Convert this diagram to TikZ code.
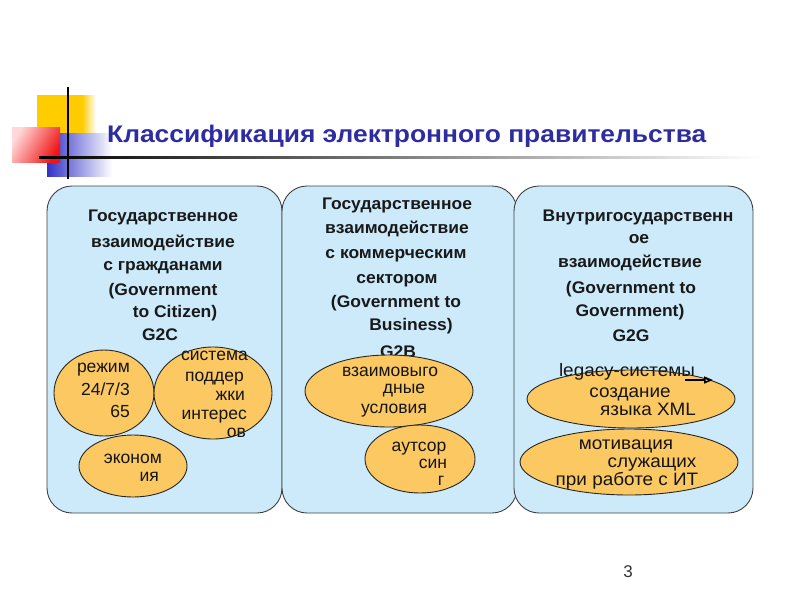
\documentclass[tikz,border=0pt]{standalone}
\usepackage{fontspec}
\setmainfont{Liberation Sans}
\newfontfamily\widefont[FakeStretch=1.1]{Liberation Sans}
\newfontfamily\midfont[FakeStretch=1.05]{Liberation Sans}
\newfontfamily\hdrfont[FakeStretch=1.04]{Liberation Sans}
\usetikzlibrary{arrows.meta}
\definecolor{boxblue}{RGB}{204,234,250}
\definecolor{ovfill}{RGB}{252,200,98}
\definecolor{titleblue}{RGB}{45,45,160}
\definecolor{logoyel}{RGB}{255,204,0}
\definecolor{logored}{RGB}{240,20,20}
\definecolor{logoblue}{RGB}{50,50,200}
\definecolor{txt}{RGB}{25,25,25}
\tikzset{
  panel/.style={draw=black!75, line width=0.9pt, fill=boxblue, rounded corners=25pt},
  oval/.style={draw=black!85, line width=0.9pt, fill=ovfill},
  hdr/.style={font=\hdrfont\bfseries\fontsize{16.8}{19}\selectfont, inner sep=0pt, text=txt, anchor=mid},
  etx/.style={font=\fontsize{17.5}{20}\selectfont, inner sep=0pt, text=txt!85!black},
  etw/.style={font=\midfont\fontsize{18}{20}\selectfont, inner sep=0pt, text=txt!85!black, anchor=mid},
}
\begin{document}
\begin{tikzpicture}[x=1pt,y=-1pt]
\useasboundingbox (0,0) rectangle (800,600);
% logo
\fill[logoyel] (37,95) rectangle (82,133);
\shade[left color=logoyel, right color=white] (82,95) rectangle (96,133);
\shade[left color=logoblue, right color=white] (47,133) rectangle (112,176);
\shade[left color=red!15, right color=logored, shading angle=60] (12,127) rectangle (60,162);
\draw[line width=1.6pt] (68,87) -- (68,179);
\shade[left color=black, right color=white] (39,156) rectangle (760,158.5);
% title
\node[font=\widefont\bfseries\fontsize{24}{28}\selectfont, text=titleblue, anchor=mid west, inner sep=0pt] (title) at (107,140) {Классификация электронного правительства};
% panels
\draw[panel] (47,186) rectangle (282,513);
\draw[panel] (282,186) rectangle (517,513);
\draw[panel] (514,186) rectangle (753,513);
% headers box 1
\node[hdr] (h1a) at (163,219) {Государственное};
\node[hdr] (h1b) at (163,245) {взаимодействие};
\node[hdr] (h1c) at (163,268) {с гражданами};
\node[hdr] (h1d) at (163,293) {(Government};
\node[hdr] (h1e) at (175,315) {to Citizen)};
\node[hdr] (h1f) at (160,338) {G2C};
% headers box 2
\node[hdr] (h2a) at (397,207) {Государственное};
\node[hdr] (h2b) at (397,231) {взаимодействие};
\node[hdr] (h2c) at (396,256) {с коммерческим};
\node[hdr] (h2d) at (397,281) {сектором};
\node[hdr] (h2e) at (396,305) {(Government to};
\node[hdr] (h2f) at (411,328) {Business)};
\node[hdr] (h2g) at (398,355) {G2B};
% headers box 3
\node[hdr] (h3a) at (638,219) {Внутригосударственн};
\node[hdr] (h3b) at (639,241) {ое};
\node[hdr] (h3c) at (630,265) {взаимодействие};
\node[hdr] (h3d) at (631,291) {(Government to};
\node[hdr] (h3e) at (630,314) {Government)};
\node[hdr] (h3f) at (631,339) {G2G};
% ovals
\draw[oval] (104,393) ellipse [x radius=50, y radius=43];
\draw[oval] (213,393) ellipse [x radius=59, y radius=46];
\draw[oval] (133,466) ellipse [x radius=54, y radius=31];
\draw[oval] (389,391) ellipse [x radius=84, y radius=36];
\draw[oval] (420,459) ellipse [x radius=55, y radius=34];
\draw[oval] (631,399) ellipse [x radius=104, y radius=29];
\draw[oval] (629,462) ellipse [x radius=109, y radius=33];
% oval texts box 1
\node[etx, anchor=mid east] (e1a) at (130,370) {режим};
\node[etx, anchor=mid east] (e1b) at (130,393) {24/7/3};
\node[etx, anchor=mid east] (e1c) at (130,415) {65};
\node[etx, anchor=mid east] (e2a) at (248,358) {система};
\node[etx, anchor=mid east] (e2b) at (244,379) {поддер};
\node[etx, anchor=mid east] (e2c) at (245,398) {жки};
\node[etx, anchor=mid east] (e2d) at (247,417) {интерес};
\node[etx, anchor=mid east] (e2e) at (246,435) {ов};
\node[etx, anchor=mid east] (e3a) at (162,461) {эконом};
\node[etx, anchor=mid east] (e3b) at (159,479) {ия};
% oval texts box 2
\node[etx, anchor=mid] (e4a) at (390,374) {взаимовыго};
\node[etx, anchor=mid] (e4b) at (404,391) {дные};
\node[etx, anchor=mid] (e4c) at (394,411) {условия};
\node[etx, anchor=mid] (e5a) at (419,449) {аутсор};
\node[etx, anchor=mid] (e5b) at (433,466) {син};
\node[etx, anchor=mid] (e5c) at (441,483) {г};
% oval texts box 3
\node[etw] (e6a) at (627,374) {legacy-системы};
\node[etw] (e6b) at (630,395) {создание};
\node[etw] (e6c) at (648,413) {языка XML};
\node[etw] (e7a) at (626,447) {мотивация};
\node[etw] (e7b) at (652,465) {служащих};
\node[etw] (e7c) at (627,483) {при работе с ИТ};
% small arrow
\coordinate (arrS) at (685,380);
\coordinate (arrE) at (713,380);
\draw[line width=1.3pt, -{Triangle[open, length=9pt, width=7pt, line width=1.6pt]}] (arrS) -- (arrE);
% page number
\node[font=\fontsize{17}{20}\selectfont, inner sep=0pt, text=black!80] (pnum) at (628,572) {3};
\end{tikzpicture}
\end{document}
